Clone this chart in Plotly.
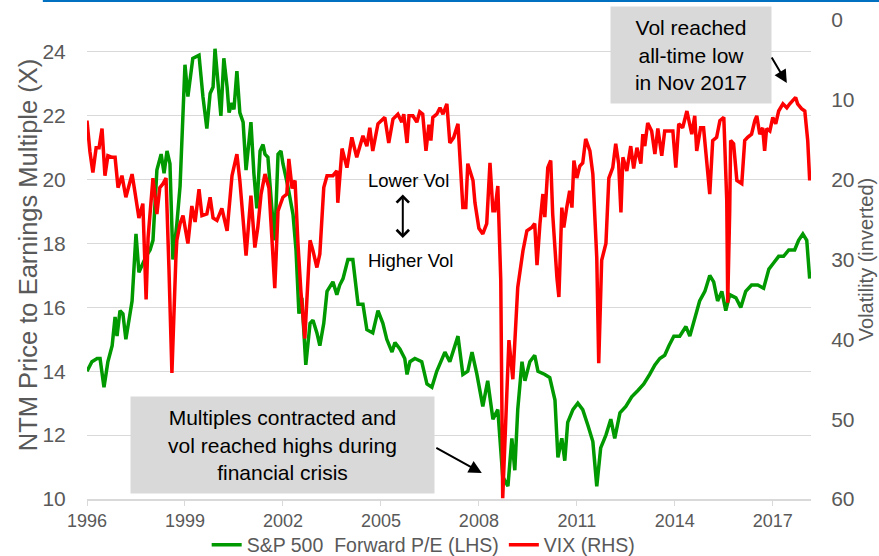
import plotly.graph_objects as go

# ---- data (decimal years) ----
pe_years = [1996.00, 1996.15, 1996.31, 1996.40, 1996.52, 1996.64, 1996.77, 1996.86, 1996.92,
            1997.01, 1997.10, 1997.19, 1997.38, 1997.44, 1997.50, 1997.59, 1997.68, 1997.81, 1997.93,
            1998.02, 1998.14, 1998.27, 1998.36, 1998.45, 1998.54, 1998.63, 1998.75, 1998.85,
            1999.00, 1999.09, 1999.24, 1999.43, 1999.55, 1999.67, 1999.77, 1999.86, 1999.92,
            2000.01, 2000.10, 2000.19, 2000.29, 2000.35, 2000.44, 2000.50, 2000.59, 2000.68, 2000.78, 2000.87,
            2001.02, 2001.11, 2001.20, 2001.30, 2001.39, 2001.45, 2001.54, 2001.66, 2001.75, 2001.85, 2001.94,
            2002.00, 2002.15, 2002.31, 2002.40, 2002.49, 2002.58, 2002.70, 2002.83, 2002.92,
            2003.04, 2003.13, 2003.25, 2003.35, 2003.53, 2003.65, 2003.74, 2003.84, 2003.99,
            2004.14, 2004.30, 2004.45, 2004.57, 2004.75, 2004.91,
            2005.06, 2005.18, 2005.34, 2005.43, 2005.58, 2005.73, 2005.80, 2005.89,
            2006.04, 2006.25, 2006.41, 2006.56, 2006.71, 2006.87, 2006.96,
            2007.11, 2007.36, 2007.51, 2007.66, 2007.79, 2007.94,
            2008.12, 2008.27, 2008.43, 2008.58, 2008.73, 2008.89,
            2009.01, 2009.10, 2009.19, 2009.32, 2009.41, 2009.56, 2009.71, 2009.81,
            2010.02, 2010.17, 2010.33, 2010.42, 2010.54, 2010.63, 2010.72, 2010.88,
            2011.03, 2011.18, 2011.34, 2011.49, 2011.61, 2011.73, 2011.89,
            2012.04, 2012.16, 2012.32, 2012.50, 2012.68, 2012.87,
            2013.05, 2013.23, 2013.39, 2013.54, 2013.69, 2013.82, 2013.97,
            2014.15, 2014.34, 2014.46, 2014.64, 2014.76, 2014.92,
            2015.07, 2015.19, 2015.31, 2015.44, 2015.56, 2015.68, 2015.87,
            2016.02, 2016.17, 2016.35, 2016.54, 2016.72, 2016.88,
            2017.03, 2017.18, 2017.33, 2017.49, 2017.67, 2017.79, 2017.92,
            2018.04, 2018.13]
pe_values = [14.0, 14.3, 14.4, 14.4, 13.5, 14.3, 14.8, 15.7, 15.1,
             15.9, 15.8, 15.0, 16.2, 17.2, 18.3, 17.1, 17.3, 17.6, 17.8,
             18.1, 20.3, 20.8, 20.2, 20.9, 20.5, 17.5, 18.6, 19.8,
             23.6, 22.6, 23.8, 23.9, 22.6, 21.6, 22.7, 22.9, 24.1,
             23.0, 22.0, 23.8, 22.9, 22.1, 22.4, 22.2, 23.4, 22.1, 21.8, 20.3,
             21.8, 20.2, 19.1, 20.9, 21.1, 20.8, 20.7, 19.1, 18.1, 20.8, 20.9,
             20.5, 19.8, 18.9, 17.8, 15.8, 16.3, 14.2, 15.5, 15.6,
             15.2, 14.8, 15.5, 16.5, 16.8, 16.4, 16.7, 16.9, 17.5,
             17.5, 16.1, 16.1, 15.3, 15.2, 15.9,
             15.5, 15.0, 14.6, 14.9, 14.7, 14.4, 13.9, 14.3,
             14.4, 14.3, 13.6, 13.5, 14.0, 14.4, 14.6,
             14.3, 15.1, 13.9, 14.0, 14.6, 13.9,
             12.9, 13.7, 12.5, 12.8, 10.7, 10.4,
             11.9, 10.9, 12.8, 14.3, 13.7, 14.3, 14.5, 14.0,
             13.9, 13.8, 13.1, 11.3, 11.9, 11.2, 12.4, 12.8,
             13.0, 12.8, 12.3, 11.8, 10.4, 11.6, 12.0,
             12.5, 11.9, 12.7, 12.9, 13.2, 13.4,
             13.6, 13.9, 14.2, 14.4, 14.5, 14.8, 15.1,
             15.1, 15.4, 15.1, 15.8, 16.2, 16.5,
             17.0, 16.8, 16.2, 16.5, 15.9, 16.4, 16.3,
             16.0, 16.5, 16.7, 16.7, 16.6, 17.2,
             17.4, 17.6, 17.6, 17.8, 17.8, 18.1, 18.3,
             18.1, 16.9]

vix_years = [1996.00, 1996.09, 1996.18, 1996.28, 1996.37, 1996.46, 1996.55, 1996.64, 1996.77, 1996.86, 1996.95,
             1997.07, 1997.19, 1997.29, 1997.38, 1997.47, 1997.59, 1997.71, 1997.78, 1997.81, 1997.87, 1997.96,
             1998.02, 1998.14, 1998.23, 1998.33, 1998.42, 1998.51, 1998.60, 1998.72, 1998.75, 1998.85, 1998.94,
             1999.09, 1999.21, 1999.31, 1999.43, 1999.52, 1999.67, 1999.77, 1999.86, 1999.98,
             2000.13, 2000.29, 2000.44, 2000.59, 2000.68, 2000.78, 2000.87,
             2001.02, 2001.14, 2001.23, 2001.33, 2001.45, 2001.57, 2001.69, 2001.75, 2001.85,
             2002.00, 2002.12, 2002.18, 2002.28, 2002.37, 2002.46, 2002.55, 2002.67, 2002.76, 2002.83, 2002.92,
             2003.04, 2003.13, 2003.25, 2003.35, 2003.53, 2003.65, 2003.68, 2003.81, 2003.96,
             2004.11, 2004.26, 2004.45, 2004.57, 2004.66, 2004.75, 2004.91,
             2005.12, 2005.24, 2005.37, 2005.52, 2005.64, 2005.70, 2005.80, 2005.86, 2005.98,
             2006.10, 2006.19, 2006.28, 2006.38, 2006.47, 2006.53, 2006.59, 2006.71, 2006.81, 2006.90,
             2007.02, 2007.11, 2007.23, 2007.36, 2007.51, 2007.60, 2007.66, 2007.82, 2007.88,
             2008.00, 2008.12, 2008.24, 2008.34, 2008.43, 2008.49, 2008.58, 2008.67, 2008.73, 2008.92,
             2009.04, 2009.19, 2009.35, 2009.47, 2009.62, 2009.71, 2009.78, 2009.87, 2009.96,
             2010.02, 2010.11, 2010.20, 2010.26, 2010.39, 2010.45, 2010.54, 2010.60, 2010.69, 2010.78, 2010.85, 2010.91,
             2011.00, 2011.09, 2011.18, 2011.27, 2011.40, 2011.49, 2011.61, 2011.67, 2011.76, 2011.89, 2011.98,
             2012.10, 2012.19, 2012.28, 2012.35, 2012.41, 2012.53, 2012.65, 2012.74, 2012.84, 2012.96,
             2013.02, 2013.08, 2013.17, 2013.29, 2013.39, 2013.48, 2013.60, 2013.69, 2013.78, 2013.94,
             2014.03, 2014.12, 2014.24, 2014.37, 2014.52, 2014.61, 2014.67, 2014.79, 2014.88,
             2015.01, 2015.07, 2015.16, 2015.28, 2015.38, 2015.50, 2015.59, 2015.62, 2015.68, 2015.71, 2015.80, 2015.90,
             2016.05, 2016.14, 2016.23, 2016.35, 2016.45, 2016.51, 2016.60, 2016.69, 2016.75, 2016.81, 2016.91,
             2017.00, 2017.09, 2017.18, 2017.31, 2017.43, 2017.52, 2017.61, 2017.70, 2017.76, 2017.88, 2017.98,
             2018.07, 2018.13]
vix_values = [12.6, 16.5, 19.1, 16.0, 16.0, 13.6, 19.5, 17.0, 17.2, 17.2, 21.0,
              19.5, 22.2, 20.5, 19.3, 21.6, 24.8, 23.0, 30.1, 35.0, 27.3, 22.5,
              19.8, 24.3, 21.0, 20.5, 19.8, 31.2, 44.2, 30.0, 27.6, 25.5, 24.5,
              28.0, 23.3, 25.3, 21.2, 24.5, 24.3, 22.2, 24.8, 25.1,
              23.6, 26.4, 19.5, 16.8, 20.1, 25.0, 29.5,
              22.0, 28.5, 26.0, 21.8, 19.3, 21.0, 29.3, 33.6, 23.9,
              22.2, 21.8, 17.4, 21.1, 20.1, 28.0, 34.0, 39.9, 31.8, 27.6, 28.9,
              31.0, 29.3, 21.0, 19.5, 19.5, 18.9, 22.9, 16.1, 18.5,
              14.7, 17.2, 14.5, 15.8, 13.5, 16.4, 13.0,
              12.2, 15.4, 12.4, 11.8, 12.8, 11.8, 15.4, 12.0, 12.0,
              12.8, 11.5, 11.8, 16.4, 13.1, 15.1, 12.2, 11.8, 11.0, 11.8,
              10.5, 15.4, 14.7, 13.0, 23.5, 23.5, 18.0, 20.1, 22.9,
              26.1, 26.8, 25.5, 17.9, 23.9, 23.9, 20.8, 32.6, 59.9, 40.1,
              45.0, 33.5, 28.9, 26.4, 26.0, 25.5, 30.7, 25.5, 21.8,
              24.7, 18.5, 17.6, 24.3, 32.3, 34.7, 23.5, 26.0, 23.5, 21.4, 23.5, 17.6,
              19.8, 18.3, 17.9, 14.9, 16.4, 19.3, 29.8, 43.0, 30.1, 28.0, 19.8,
              18.5, 15.5, 18.0, 24.1, 17.2, 18.9, 15.8, 18.6, 16.0, 18.0,
              14.3, 15.8, 12.9, 13.9, 16.8, 13.6, 17.0, 13.9, 13.9, 13.9,
              18.5, 13.0, 13.5, 11.4, 14.3, 12.0, 16.4, 13.5, 13.5,
              20.1, 21.8, 15.1, 14.7, 12.6, 12.2, 22.6, 35.4, 24.0, 15.1, 15.5, 20.1,
              20.5, 15.1, 14.7, 14.3, 12.6, 12.0, 14.3, 13.5, 16.4, 13.6, 13.9,
              12.2, 13.0, 11.4, 10.5, 11.0, 10.5, 10.1, 9.7, 10.5, 11.1, 11.4,
              15.1, 20.1]

x_ticks = [1996, 1999, 2002, 2005, 2008, 2011, 2014, 2017]
x_tick_labels = ["1996", "1999", "2002", "2005", "2008", "2011", "2014", "2017"]
pe_ticks = [10, 12, 14, 16, 18, 20, 22, 24]
vix_ticks = [0, 10, 20, 30, 40, 50, 60]

FONT = "Liberation Sans, Arial, sans-serif"
GRAY = "#595959"
GREEN = "#009900"
RED = "#ff0000"

fig = go.Figure()
fig.add_trace(go.Scatter(x=pe_years, y=pe_values, mode="lines",
                         name="S&amp;P 500\u00a0 Forward P/E (LHS)",
                         line=dict(color=GREEN, width=3.5), yaxis="y"))
fig.add_trace(go.Scatter(x=vix_years, y=vix_values, mode="lines",
                         name="VIX (RHS)",
                         line=dict(color=RED, width=3.5), yaxis="y2"))

fig.update_layout(
    width=879, height=556,
    margin=dict(l=87, r=68, t=20, b=57),
    paper_bgcolor="white", plot_bgcolor="white",
    font=dict(family=FONT, color=GRAY, size=17),
    showlegend=True,
    legend=dict(orientation="h", xref="container", yref="container",
                x=0.482, xanchor="center", y=0.0198, yanchor="middle",
                font=dict(size=19.5, color=GRAY, family=FONT), bgcolor="rgba(0,0,0,0)",
                itemwidth=30, tracegroupgap=0),
    xaxis=dict(range=[1996, 2018.17], tickvals=x_ticks, ticktext=x_tick_labels, automargin=False,
               showgrid=False, zeroline=False, showline=True, linecolor="#d9d9d9", linewidth=1.5,
               ticks="outside", ticklen=5, tickcolor="#d9d9d9", tickfont=dict(size=18, color=GRAY)),
    yaxis=dict(range=[10, 25], tickvals=pe_ticks, showgrid=True, gridcolor="#d9d9d9", gridwidth=1,
               zeroline=False, showline=False, ticks="outside", ticklen=16, tickcolor="rgba(0,0,0,0)",
               automargin=False, tickfont=dict(size=21, color=GRAY)),
    yaxis2=dict(range=[60, 0], tickvals=vix_ticks, overlaying="y", side="right", automargin=False,
                showgrid=False, zeroline=False, showline=False, ticks="outside", ticklen=15,
                tickcolor="rgba(0,0,0,0)", tickfont=dict(size=21, color=GRAY),
                title=dict(text="Volatility (inverted)", font=dict(size=20, color=GRAY), standoff=4)),
)

# left axis title (placed as rotated text beside the tick labels)
fig.add_annotation(xref="paper", yref="paper", x=-0.0815, y=0.511, xanchor="center", yanchor="middle",
                   text="NTM Price to Earnings Multiple (X)", textangle=-90, showarrow=False,
                   font=dict(size=25.5, color=GRAY, family=FONT))

# decorative blue rule at the top of the slide
fig.add_shape(type="line", xref="paper", yref="paper", x0=-0.061, x1=1.1, y0=1.0395, y1=1.0395,
              line=dict(color="#0070c0", width=2))

BOX = "#d9d9d9"
fig.add_annotation(xref="paper", yref="paper", x=0.834, y=0.927, xanchor="center", yanchor="middle",
                   text="Vol reached<br>all-time low<br>in Nov 2017", showarrow=False,
                   bgcolor=BOX, width=160, height=96, borderpad=0,
                   font=dict(size=21, color="#000000", family=FONT))
fig.add_annotation(xref="x", yref="y2", x=2017.43, y=7.9, ax=-16, ay=-27, text="",
                   showarrow=True, arrowhead=2, arrowsize=1.3, arrowwidth=2, arrowcolor="#000000")

fig.add_annotation(xref="paper", yref="paper", x=0.2700, y=0.112, xanchor="center", yanchor="middle",
                   text="Multiples contracted and<br>vol reached highs during<br>financial crisis",
                   showarrow=False, bgcolor=BOX, width=303, height=96, borderpad=0,
                   font=dict(size=21, color="#000000", family=FONT))
fig.add_annotation(xref="x", yref="y2", x=2008.09, y=56.75, ax=-47, ay=-26, text="",
                   showarrow=True, arrowhead=2, arrowsize=1.3, arrowwidth=2, arrowcolor="#000000")

fig.add_annotation(xref="x", yref="y2", x=2005.84, y=20.1, text="Lower Vol", showarrow=False,
                   font=dict(size=18.5, color="#000000", family=FONT))
fig.add_annotation(xref="x", yref="y2", x=2005.90, y=30.1, text="Higher Vol", showarrow=False,
                   font=dict(size=18.5, color="#000000", family=FONT))
fig.add_annotation(xref="x", yref="y2", x=2005.67, y=27.3, ax=0, ay=-45, text="",
                   showarrow=True, arrowhead=4, startarrowhead=4, arrowside="end+start",
                   arrowsize=1.2, arrowwidth=2, arrowcolor="#000000")

# remove the page's default 8px body margin so the figure sits at the window's corner
fig.write_html("out.html", config={"displayModeBar": False},
               post_script="document.body.style.margin='0px';")
